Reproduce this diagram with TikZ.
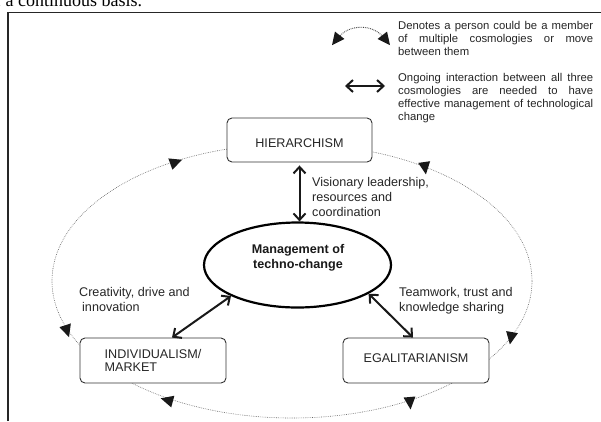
\documentclass[tikz,border=0pt]{standalone}
\usepackage{fontspec}
\setmainfont{Liberation Serif}
\setsansfont{Liberation Sans}
\usetikzlibrary{arrows.meta,shapes.geometric,calc}
\newcommand\headtri[3]{\fill[tri, shift={(#1,#2)}, rotate=#3] (6.5,0) -- (-6,6) -- (-6,-6) -- cycle;}
\begin{document}
\begin{tikzpicture}[x=1pt,y=-1pt,
  box/.style={draw=black!80, line width=0.9pt, rounded corners=5pt, fill=white, inner sep=0pt,
    font=\sffamily\fontsize{12.6}{13.3}\selectfont, text=black!85},
  conn/.style={line width=2pt, {Straight Barb[length=6.5pt,width=12pt]}-{Straight Barb[length=6.5pt,width=12pt]}, black!90},
  lbl/.style={font=\sffamily\fontsize{12.6}{15}\selectfont, text=black!85, align=left, inner sep=0pt},
  legtxt/.style={font=\sffamily\fontsize{11.3}{13.2}\selectfont, text=black!85, align=left, inner sep=0pt},
  orbit/.style={draw=black!60, line width=0.6pt, dash pattern=on 0.7pt off 1.1pt},
  legdot/.style={draw=black!75, line width=0.9pt, dash pattern=on 0.8pt off 1pt},
  tri/.style={fill=black!90}
]
\useasboundingbox (0,0) rectangle (601,421);
\fill[white] (0,0) rectangle (601,421);

% cropped page text and frame
\node[anchor=base west, inner sep=0pt, font=\fontsize{18}{20}\selectfont] (toptext) at (-5,6) {f a continuous basis.};
\draw[line width=1.3pt, black!85] (8,421) -- (8,12.5) -- (601,12.5);

% legend (anchor = baseline of last line)
\node[legtxt, anchor=base west] (leg1) at (398,55.4)
  {\makebox[195pt][s]{Denotes a person could be a member}\\\makebox[195pt][s]{of multiple cosmologies or move}\\between them};
\node[legtxt, anchor=base west] (leg2) at (398,120.6)
  {\makebox[195pt][s]{Ongoing interaction between all three}\\\makebox[195pt][s]{cosmologies are needed to have}\\\makebox[195pt][s]{effective management of technological}\\change};
\coordinate (la) at (339,37);
\coordinate (lb) at (383,37);
\draw[legdot] (la) .. controls (349,24) and (373,24) .. (lb);
\headtri{336}{40}{-128}
\headtri{386}{40}{-52}
\coordinate (da) at (345,86);
\coordinate (db) at (385,86);
\draw[conn] (da) -- (db);

% orbit
\draw[orbit] (292,281) ellipse [x radius=240pt, y radius=137pt];

% nodes
\node[box, minimum width=145pt, minimum height=44pt, text height=15pt, text depth=0pt] (hier) at (299.5,140) {HIERARCHISM};
\node[box, minimum width=146pt, minimum height=45pt, align=left] (indiv) at (153,360.5) {INDIVIDUALISM/\\MARKET};
\node[box, minimum width=146pt, minimum height=45pt, text height=9pt, text depth=5pt] (egal) at (416,360.5) {EGALITARIANISM};
\node[ellipse, draw=black, line width=2.2pt, minimum width=187pt, minimum height=85pt, inner sep=0pt] (mgmt) at (297.5,265) {};
\node[font=\sffamily\bfseries\fontsize{12.6}{15}\selectfont, align=center, inner sep=0pt, text=black!90] (mgmtlbl) at (298,257.5) {Management of\\techno-change};

% connectors
\draw[conn, shorten <=3pt] (hier.south) -- (hier.south |- mgmt.north);
\draw[conn] (mgmt.-155) -- ($(indiv.north)+(19,0)$);
\draw[conn] (mgmt.-22) -- ($(egal.north)+(-3,0)$);

% labels (anchor = baseline of last line)
\node[lbl, anchor=base west] (vis) at (312,216) {Visionary leadership,\\resources and\\coordination};
\node[lbl, anchor=base west] (cre) at (79,311) {Creativity, drive and\\\hspace{3pt}innovation};
\node[lbl, anchor=base west] (team) at (399,311) {Teamwork, trust and\\knowledge sharing};

% orbit arrowheads
\headtri{176}{162}{20}
\headtri{425}{168}{-82}
\headtri{67}{331}{-72}
\headtri{511}{338}{-100}
\headtri{167}{400}{165}
\headtri{410}{403}{-85}
\end{tikzpicture}
\end{document}
